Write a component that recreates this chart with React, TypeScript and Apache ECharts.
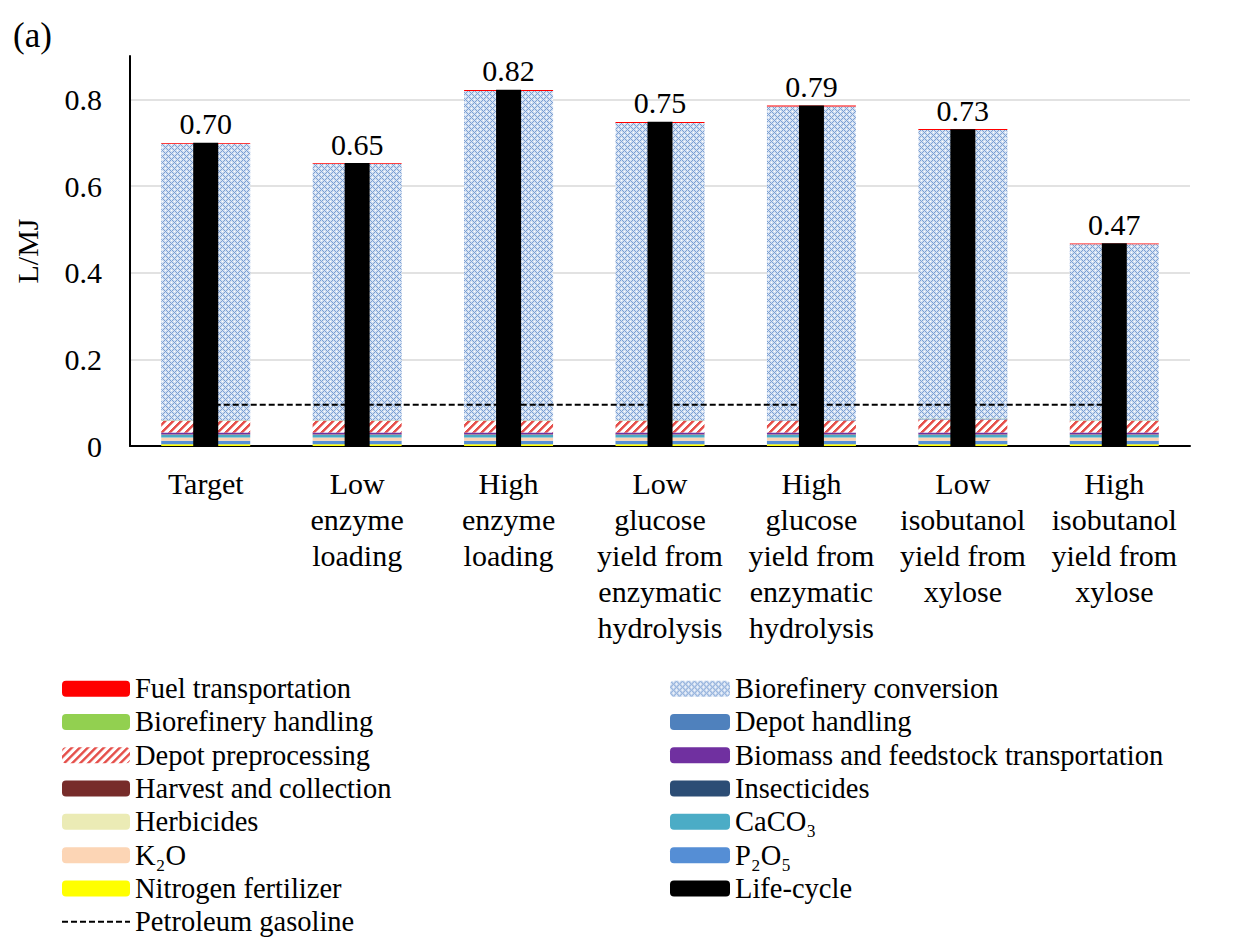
import React, { useEffect, useRef } from 'react';
import * as echarts from 'echarts';

const categories = [
  'Target',
  'Low\nenzyme\nloading',
  'High\nenzyme\nloading',
  'Low\nglucose\nyield from\nenzymatic\nhydrolysis',
  'High\nglucose\nyield from\nenzymatic\nhydrolysis',
  'Low\nisobutanol\nyield from\nxylose',
  'High\nisobutanol\nyield from\nxylose',
];

const yTicks = [0, 0.2, 0.4, 0.6, 0.8];

// L/MJ, stacked from the bottom up
const nitrogenFertilizer = [0.004, 0.004, 0.004, 0.004, 0.004, 0.004, 0.004];
const p2o5 = [0.008, 0.008, 0.008, 0.008, 0.008, 0.008, 0.008];
const k2o = [0.0075, 0.0075, 0.0075, 0.0075, 0.0075, 0.0075, 0.0075];
const caco3 = [0.006, 0.006, 0.006, 0.006, 0.006, 0.006, 0.006];
const herbicides = [0.0005, 0.0005, 0.0005, 0.0005, 0.0005, 0.0005, 0.0005];
const insecticides = [0.0005, 0.0005, 0.0005, 0.0005, 0.0005, 0.0005, 0.0005];
const harvestCollection = [0.0005, 0.0005, 0.0005, 0.0005, 0.0005, 0.0005, 0.0005];
const biomassTransport = [0.004, 0.004, 0.004, 0.004, 0.004, 0.004, 0.004];
const depotPreprocessing = [0.027, 0.027, 0.027, 0.027, 0.028, 0.030, 0.027];
const depotHandling = [0.001, 0.001, 0.001, 0.001, 0.001, 0.002, 0.001];
const biorefineryHandling = [0.0005, 0.0005, 0.0005, 0.0005, 0.0005, 0.0005, 0.0005];
const biorefineryConversion = [0.638, 0.591, 0.760, 0.686, 0.723, 0.666, 0.406];
const fuelTransportation = [0.002, 0.002, 0.002, 0.002, 0.002, 0.002, 0.002];
const lifeCycle = [0.700, 0.653, 0.822, 0.748, 0.786, 0.731, 0.468];
const petroleumGasoline = [0.095, 0.095, 0.095, 0.095, 0.095, 0.095, 0.095];

const FONT = 'Liberation Serif';

function makeTile(size: number, draw: (x: number, y: number) => string) {
  const c = document.createElement('canvas');
  c.width = size;
  c.height = size;
  const ctx = c.getContext('2d')!;
  for (let x = 0; x < size; x++) {
    for (let y = 0; y < size; y++) {
      ctx.fillStyle = draw(x, y);
      ctx.fillRect(x, y, 1, 1);
    }
  }
  return c;
}

export default function App() {
  const ref = useRef<HTMLDivElement>(null);

  useEffect(() => {
    if (!ref.current) return;
    const chart = echarts.init(ref.current, undefined, { renderer: 'svg' });

    const lattice = makeTile(6, (x, y) => {
      const a = (x + y) % 6;
      const b = (x - y + 6) % 6;
      if (a === 0 || b === 0) return '#7b9fd3';
      if (a === 3 && b === 3) return '#ffffff';
      return '#d3e0f2';
    });
    const stripes = makeTile(8, (x, y) => {
      const a = (x + y) % 8;
      return a < 3 ? '#e5514c' : a === 3 ? '#f2aaa7' : '#ffffff';
    });
    const latticePattern: any = { image: lattice, repeat: 'repeat', imageWidth: 6, imageHeight: 6 };
    const stripePattern: any = { image: stripes, repeat: 'repeat', imageWidth: 8, imageHeight: 8 };

    const stackDefs: [string, number[], any][] = [
      ['Nitrogen fertilizer', nitrogenFertilizer, '#ffff00'],
      ['P₂O₅', p2o5, '#558ed5'],
      ['K₂O', k2o, '#fcd5b5'],
      ['CaCO₃', caco3, '#4bacc6'],
      ['Herbicides', herbicides, '#ebebb5'],
      ['Insecticides', insecticides, '#2c4d75'],
      ['Harvest and collection', harvestCollection, '#772c2a'],
      ['Biomass and feedstock transportation', biomassTransport, '#7030a0'],
      ['Depot preprocessing', depotPreprocessing, stripePattern],
      ['Depot handling', depotHandling, '#4f81bd'],
      ['Biorefinery handling', biorefineryHandling, '#92d050'],
      ['Biorefinery conversion', biorefineryConversion, latticePattern],
      ['Fuel transportation', fuelTransportation, '#ff0000'],
    ];

    const series: any[] = stackDefs.map(([name, data, color]) => ({
      name,
      type: 'bar',
      stack: 'total',
      xAxisIndex: 0,
      barWidth: 89,
      data,
      itemStyle: { color },
      z: 2,
    }));

    series.push({
      name: 'Petroleum gasoline',
      type: 'line',
      xAxisIndex: 0,
      data: petroleumGasoline,
      symbol: 'none',
      lineStyle: { color: '#000', width: 2, type: [6, 3] },
      itemStyle: { color: '#000' },
      z: 3,
    });

    series.push({
      name: 'Life-cycle',
      type: 'bar',
      xAxisIndex: 1,
      barWidth: 25,
      data: lifeCycle,
      itemStyle: { color: '#000' },
      z: 4,
      label: {
        show: true,
        position: 'top',
        distance: 4,
        formatter: (p: any) => p.value.toFixed(2),
        color: '#000',
        fontSize: 30,
        fontFamily: FONT,
      },
    });

    const legendText = { color: '#000', fontSize: 28.5, fontFamily: FONT, lineHeight: 33.3 };
    const legendCommon = {
      orient: 'vertical',
      top: 672,
      height: 300,
      padding: 0,
      itemHeight: 16,
      itemGap: 0,
      selectedMode: false,
      textStyle: legendText,
    };

    chart.setOption({
      animation: false,
      backgroundColor: '#fff',
      title: {
        text: '(a)',
        left: 13,
        top: 18,
        padding: 0,
        textStyle: { color: '#000', fontSize: 35, fontWeight: 'normal', fontFamily: FONT },
      },
      grid: { left: 130, right: 43, top: 56, bottom: 493 },
      legend: [
        {
          ...legendCommon,
          left: 61,
          itemWidth: 68,
          data: [
            'Fuel transportation',
            'Biorefinery handling',
            'Depot preprocessing',
            'Harvest and collection',
            'Herbicides',
            'K₂O',
            'Nitrogen fertilizer',
            { name: 'Petroleum gasoline', itemStyle: { color: 'rgba(0,0,0,0)', opacity: 0, borderWidth: 0 } },
          ],
        },
        {
          ...legendCommon,
          left: 670,
          itemWidth: 60,
          data: [
            'Biorefinery conversion',
            'Depot handling',
            'Biomass and feedstock transportation',
            'Insecticides',
            'CaCO₃',
            'P₂O₅',
            'Life-cycle',
          ],
        },
      ],
      xAxis: [
        {
          type: 'category',
          data: categories,
          axisLine: { lineStyle: { color: '#000', width: 2 } },
          axisTick: { show: false },
          axisLabel: {
            interval: 0,
            color: '#000',
            fontSize: 30,
            lineHeight: 36,
            fontFamily: FONT,
            margin: 19,
          },
        },
        {
          type: 'category',
          data: categories,
          show: false,
        },
      ],
      yAxis: {
        type: 'value',
        min: 0,
        max: 0.9,
        interval: 0.2,
        name: 'L/MJ',
        nameLocation: 'middle',
        nameGap: 88,
        nameTextStyle: { color: '#000', fontSize: 30, fontFamily: FONT },
        axisLine: { show: true, lineStyle: { color: '#000', width: 2 } },
        axisTick: { show: false },
        splitLine: { show: true, showMaxLine: false, lineStyle: { color: '#d9d9d9', width: 1.5 } },
        axisLabel: {
          color: '#000',
          fontSize: 30,
          fontFamily: FONT,
          margin: 28,
          showMaxLabel: false,
          formatter: (v: number) => (yTicks.includes(Math.round(v * 10) / 10) ? (v === 0 ? '0' : v.toFixed(1)) : ''),
        },
      },
      series,
    });

    return () => chart.dispose();
  }, []);

  return (
    <div
      ref={ref}
      style={{ position: 'absolute', left: 0, top: 0, width: 1233, height: 939 }}
    />
  );
}
